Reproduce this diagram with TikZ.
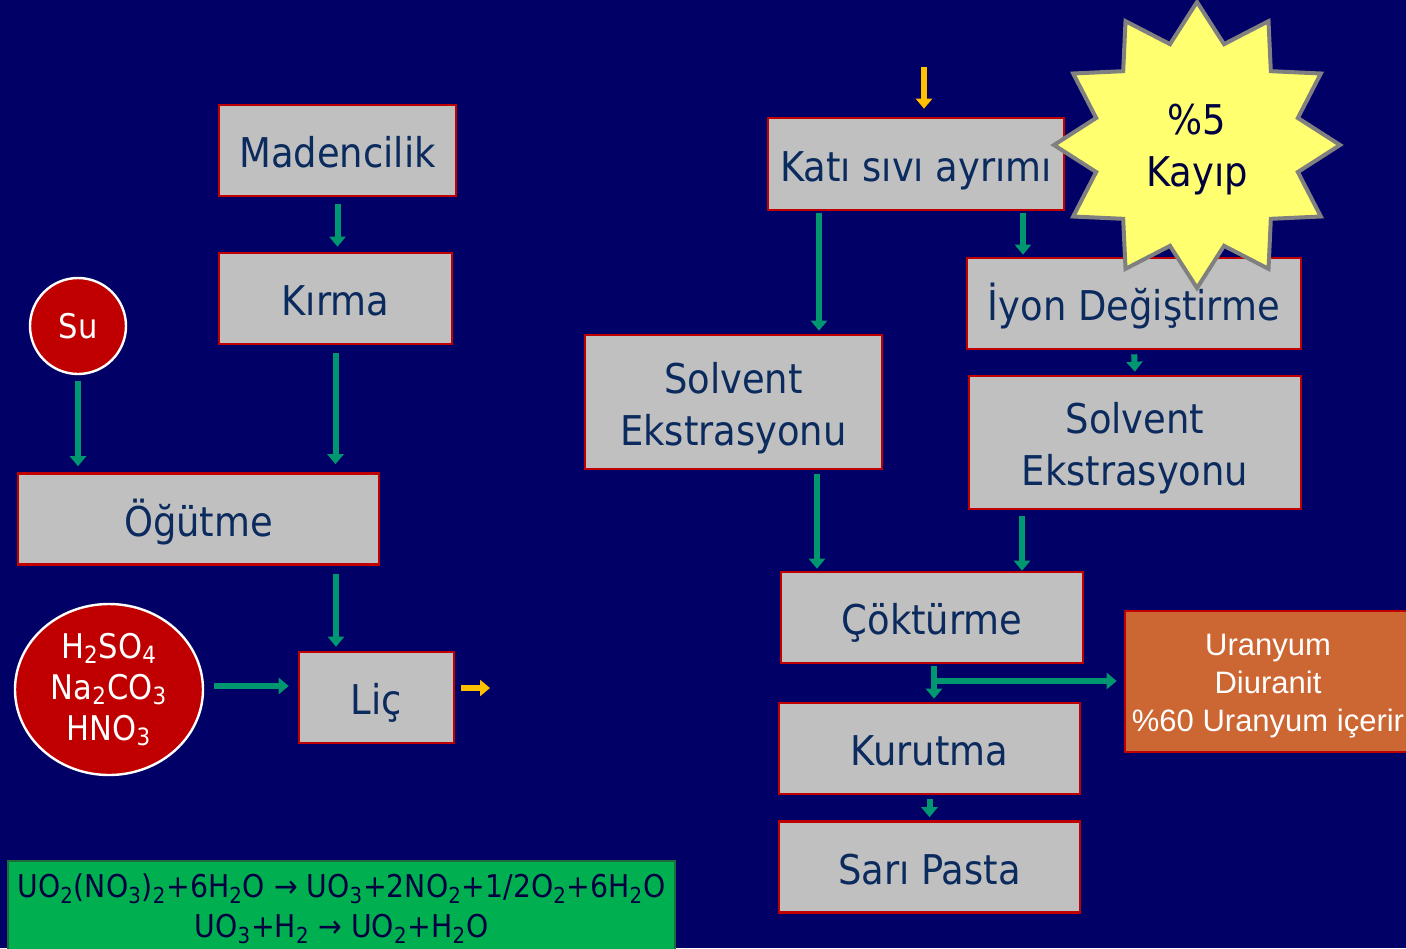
\documentclass[tikz,border=0pt]{standalone}
\usepackage{fontspec}
\setmainfont{DejaVu Sans Condensed}
\newfontfamily\arialfont{Liberation Sans}
\usetikzlibrary{arrows.meta,shapes.geometric}
\definecolor{bgnavy}{HTML}{000066}
\definecolor{boxgray}{HTML}{C0C0C0}
\definecolor{boxred}{HTML}{C00000}
\definecolor{inknavy}{HTML}{0B2A5E}
\definecolor{flowgreen}{HTML}{009670}
\definecolor{flowyellow}{HTML}{FFC000}
\definecolor{starfill}{HTML}{FFFF6F}
\definecolor{stargray}{HTML}{808080}
\definecolor{eqgreen}{HTML}{00B050}
\definecolor{eqborder}{HTML}{1E6B3C}
\definecolor{eqink}{HTML}{000040}
\definecolor{orangefill}{HTML}{CC6633}

\begin{document}
\begin{tikzpicture}[x=0.5pt,y=-0.5pt,
  font=\fontsize{20.5}{26}\selectfont,
  box/.style={draw=boxred,fill=boxgray,line width=1.3pt,text=inknavy,
    minimum height=45.5pt,inner sep=0pt,align=center,
    text height=21.2pt,text depth=4pt},
  twoline/.style={text height=47pt,text depth=4pt},
  drop/.style={ellipse,draw=white,fill=boxred,line width=1.2pt,text=white,
    inner sep=0pt,align=center,font=\fontsize{17}{20.5}\selectfont},
  flow/.style={-{Triangle[width=8pt,length=5pt]},line width=3pt,draw=flowgreen,
    shorten <=2pt,shorten >=1.5pt},
  yflow/.style={flow,draw=flowyellow}]
\useasboundingbox (0,0) rectangle (1406,948);
\fill[bgnavy] (0,0) rectangle (1406,948);

% left column
\node[box,minimum width=118.5pt] (maden) at (337.5,150.5) {Madencilik};
\node[box,minimum width=116.5pt] (kirma) at (335.5,298.5) {Kırma};
\node[drop,circle,minimum size=48pt] (su) at (78,326) {Su};
\node[box,minimum width=180.5pt] (ogut) at (198.5,519) {Öğütme};
\node[drop,minimum width=94pt,minimum height=85.5pt] (asit) at (109,689.5)
  {H\textsubscript{2}SO\textsubscript{4}\\Na\textsubscript{2}CO\textsubscript{3}\\HNO\textsubscript{3}};
\node[box,minimum width=77.5pt] (lic) at (376.5,697.5) {Liç};
\coordinate (licout) at (490,688);

% right column
\coordinate (katigir) at (924,67);
\node[box,minimum width=148pt,minimum height=46pt] (kati) at (916,164) {Katı sıvı ayrımı};
\node[box,minimum width=167pt] (iyon) at (1134,303.5) {İyon Değiştirme};
\node[box,twoline,minimum width=148.5pt,minimum height=67pt] (solsol) at (733.5,402) {Solvent\\Ekstrasyonu};
\node[box,twoline,minimum width=166pt,minimum height=66.5pt] (solsag) at (1135,442.5) {Solvent\\Ekstrasyonu};
\node[box,minimum width=151pt] (cokt) at (932,617.5) {Çöktürme};
\node[box,minimum width=150.5pt] (kurut) at (929.5,748.5) {Kurutma};
\node[box,minimum width=150.5pt] (pasta) at (929.5,867) {Sarı Pasta};
\node[box,fill=orangefill,text=white,minimum width=143pt,minimum height=70.5pt,
  text height=54pt,text depth=4pt,
  font=\arialfont\fontsize{15.5}{19}\selectfont] (uran) at (1268,681.5)
  {Uranyum\\Diuranit\\\%60 Uranyum içerir};
\coordinate (dal) at (934,681);
\node[star,star points=12,star point ratio=1.37,minimum size=143pt,inner sep=0pt,
  draw=stargray,line width=2pt,fill=starfill] (kayip) at (1197,145) {};
\node[text=eqink,align=center] (kayipyazi) at ([yshift=-2.5pt]kayip.center) {\%5\\Kayıp};

% reactions
\node[box,fill=eqgreen,draw=eqborder,line width=1pt,text=eqink,minimum width=333.5pt,
  minimum height=45pt,text height=35.5pt,text depth=4pt,
  font=\fontsize{15.7}{20}\selectfont] (denklem) at (341.5,906)
  {UO\textsubscript{2}(NO\textsubscript{3})\textsubscript{2}+6H\textsubscript{2}O → UO\textsubscript{3}+2NO\textsubscript{2}+1/2O\textsubscript{2}+6H\textsubscript{2}O\\
   UO\textsubscript{3}+H\textsubscript{2} → UO\textsubscript{2}+H\textsubscript{2}O};

% connectors
\draw[flow,shorten <=3.5pt,shorten >=2.5pt] (maden.south) -- (maden.south |- kirma.north);
\draw[flow,shorten <=4pt,shorten >=4pt] (kirma.south) -- (kirma.south |- ogut.north);
\draw[flow,shorten <=3pt,shorten >=3pt] (su.south) -- (su.south |- ogut.north);
\draw[flow,shorten <=4pt,shorten >=2pt] ([xshift=-20.25pt]lic.north |- ogut.south) -- ([xshift=-20.25pt]lic.north);
\draw[flow,shorten <=5pt,shorten >=4.5pt] ([yshift=1.75pt]asit.east) -- ([yshift=1.75pt]asit.east -| lic.west);
\draw[yflow,shorten <=3pt,shorten >=0pt] ([yshift=4.75pt]lic.east) -- (licout);
\draw[yflow,shorten <=0pt,shorten >=4pt] (katigir) -- (katigir |- kati.north);
\draw[flow,shorten <=1pt] ([xshift=-48.5pt]kati.south) -- ([xshift=-48.5pt]kati.south |- solsol.north);
\draw[flow,shorten <=1pt,shorten >=1pt] ([xshift=53.5pt]kati.south) -- ([xshift=53.5pt]kati.south |- iyon.north);
\draw[flow] (iyon.south) -- (solsag.north);
\draw[flow,shorten >=1pt] ([xshift=41.75pt]solsol.south) -- ([xshift=41.75pt]solsol.south |- cokt.north);
\draw[flow,shorten <=3pt,shorten >=0pt] ([xshift=-56.5pt]solsag.south) -- ([xshift=-56.5pt]solsag.south |- cokt.north);
\draw[flow,shorten <=1pt] ([xshift=1pt]cokt.south) -- ([xshift=1pt]cokt.south |- kurut.north);
\draw[flow,shorten <=0pt,shorten >=3.5pt] (dal) -- (dal -| uran.west);
\draw[flow] (kurut.south) -- (kurut.south |- pasta.north);
\end{tikzpicture}
\end{document}
